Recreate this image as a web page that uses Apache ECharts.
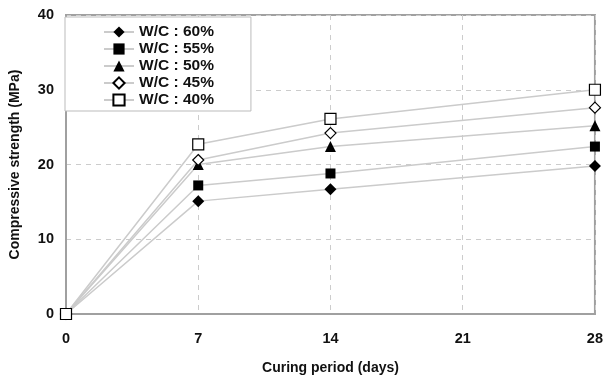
<!DOCTYPE html>
<html><head><meta charset="utf-8">
<script src="https://cdn.jsdelivr.net/npm/echarts@6/dist/echarts.min.js"></script>
<style>html,body{margin:0;padding:0;background:#fff}#c{width:606px;height:380px}</style>
</head><body><div id="c"></div>
<script>
const days = [0, 7, 14, 28];
const wc60 = [0, 15.1, 16.7, 19.8];
const wc55 = [0, 17.2, 18.8, 22.4];
const wc50 = [0, 20.0, 22.4, 25.2];
const wc45 = [0, 20.6, 24.2, 27.6];
const wc40 = [0, 22.7, 26.1, 30.0];
const seriesNames = ['W/C : 60%', 'W/C : 55%', 'W/C : 50%', 'W/C : 45%', 'W/C : 40%'];
const xTicks = [0, 7, 14, 21, 28];
const yTicks = [0, 10, 20, 30, 40];

const font = 'Liberation Sans, Arial, sans-serif';
const styles = [
  {symbol: 'diamond', size: 12, fill: '#000'},
  {symbol: 'rect', size: 10, fill: '#000'},
  {symbol: 'triangle', size: 11, fill: '#000'},
  {symbol: 'diamond', size: 11, fill: '#fff'},
  {symbol: 'rect', size: 11, fill: '#fff'}
];
const values = [wc60, wc55, wc50, wc45, wc40];

const chart = echarts.init(document.getElementById('c'));
chart.setOption({
  animation: false,
  backgroundColor: '#fff',
  grid: {left: 65, right: 10, top: 15, bottom: 64, show: true, borderColor: '#a0a0a0', borderWidth: 2},
  legend: {
    orient: 'vertical', left: 65, top: 17,
    data: seriesNames,
    itemWidth: 30, itemHeight: 14, itemGap: 1,
    padding: [7, 37, 3, 38],
    backgroundColor: '#fff', borderColor: '#bbb', borderWidth: 1,
    textStyle: {fontFamily: font, fontWeight: 'bold', fontSize: 15.5, lineHeight: 16, color: '#111'}
  },
  xAxis: {
    type: 'value', min: xTicks[0], max: xTicks[xTicks.length - 1], interval: 7,
    name: 'Curing period (days)', nameLocation: 'middle', nameGap: 47,
    nameTextStyle: {fontFamily: font, fontWeight: 'bold', fontSize: 14, color: '#111'},
    axisLine: {show: true, lineStyle: {color: '#a0a0a0', width: 2}},
    axisTick: {show: false},
    axisLabel: {fontFamily: font, fontWeight: 'bold', fontSize: 14.5, color: '#111', margin: 17},
    splitLine: {show: true, lineStyle: {color: '#ccc', type: [5, 5], width: 1}}
  },
  yAxis: {
    type: 'value', min: yTicks[0], max: yTicks[yTicks.length - 1], interval: 10,
    name: 'Compressive strength (MPa)', nameLocation: 'middle', nameGap: 44,
    nameTextStyle: {fontFamily: font, fontWeight: 'bold', fontSize: 14, color: '#111'},
    axisLine: {show: true, lineStyle: {color: '#a0a0a0', width: 2}},
    axisTick: {show: false},
    axisLabel: {fontFamily: font, fontWeight: 'bold', fontSize: 14.5, color: '#111', margin: 12},
    splitLine: {show: true, lineStyle: {color: '#ccc', type: [5, 5], width: 1}}
  },
  series: seriesNames.map((n, i) => ({
    name: n, type: 'line',
    data: days.map((d, j) => [d, values[i][j]]),
    symbol: styles[i].symbol, symbolSize: styles[i].size,
    showAllSymbol: true,
    lineStyle: {color: '#cbcbcb', width: 1.5},
    itemStyle: {color: styles[i].fill, borderColor: '#000', borderWidth: styles[i].fill === '#fff' ? 1.2 : 0},
    emphasis: {disabled: true}
  }))
});
</script></body></html>
